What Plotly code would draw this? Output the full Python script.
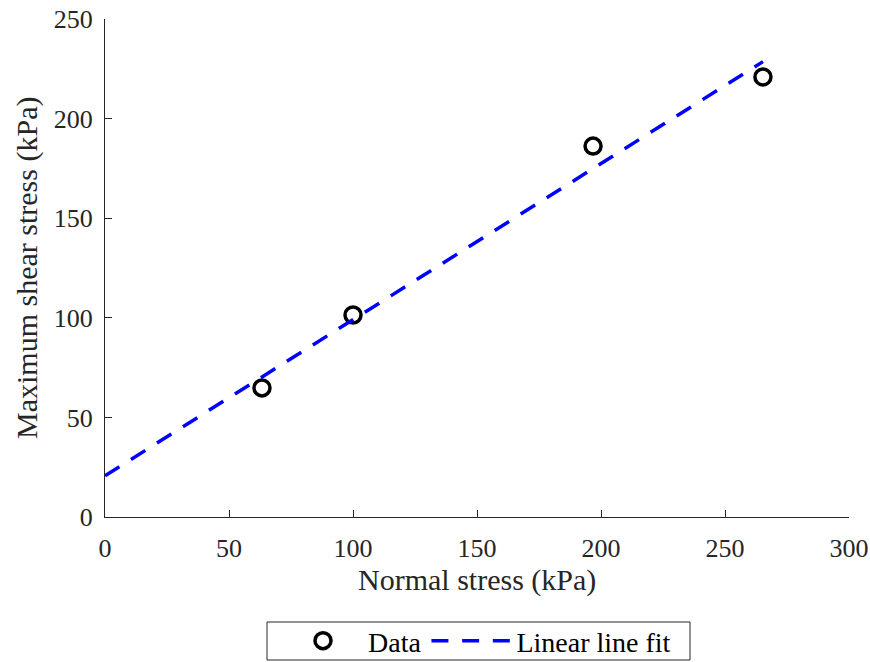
import plotly.graph_objects as go

# Data
normal_stress = [63.3, 100.0, 196.8, 265.3]
shear_stress = [64.8, 101.4, 186.2, 220.9]

fit_x = [0.0, 265.3]
fit_y = [20.7, 228.6]

x_ticks = [0, 50, 100, 150, 200, 250, 300]
y_ticks = [0, 50, 100, 150, 200, 250]

x_title = "Normal stress (kPa)"
y_title = "Maximum shear stress (kPa)"

FONT = "Liberation Serif"
AX = "#262626"

fig = go.Figure()
fig.add_trace(go.Scatter(
    x=normal_stress, y=shear_stress, mode="markers", name="Data",
    marker=dict(symbol="circle-open", size=16, color="black",
                line=dict(width=3.5, color="black")),
))
fig.add_trace(go.Scatter(
    x=fit_x, y=fit_y, mode="lines", name="Linear line fit",
    line=dict(color="rgb(0,0,255)", width=3.5, dash="17px,13.7px"),
))

fig.update_layout(
    width=870, height=662,
    margin=dict(l=105, r=21, t=19, b=145),
    paper_bgcolor="white", plot_bgcolor="white",
    font=dict(family=FONT, size=26, color=AX),
    showlegend=True,
    legend=dict(
        orientation="h", x=0.5, xanchor="center",
        yref="container", y=1 - 641 / 662, yanchor="middle",
        borderwidth=0, bgcolor="rgba(0,0,0,0)",
        itemwidth=80,
        font=dict(family=FONT, size=28, color="black"),
    ),
    shapes=[
        # legend frame
        dict(type="rect", xref="paper", yref="paper",
             x0=(267 - 105) / 744, x1=(690 - 105) / 744,
             y0=(517 - 660) / 498, y1=(517 - 622) / 498,
             line=dict(color="#262626", width=1), fillcolor="rgba(0,0,0,0)",
             layer="below"),
    ],
    xaxis=dict(
        range=[0, 300], tickvals=x_ticks, ticktext=[str(v) for v in x_ticks],
        showgrid=False, zeroline=False, showline=True, linecolor=AX, linewidth=1,
        ticks="inside", ticklen=7, tickcolor=AX, tickwidth=1, automargin=False,
        ticklabelstandoff=8,
    ),
    yaxis=dict(
        range=[0, 250], tickvals=y_ticks, ticktext=[str(v) for v in y_ticks],
        showgrid=False, zeroline=False, showline=True, linecolor=AX, linewidth=1,
        ticks="inside", ticklen=7, tickcolor=AX, tickwidth=1, automargin=False,
        ticklabelstandoff=6,
    ),
    annotations=[
        dict(text=x_title, xref="paper", yref="paper", x=0.5, y=0,
             xanchor="center", yanchor="middle", yshift=-63, showarrow=False,
             font=dict(family=FONT, size=30, color=AX)),
        dict(text=y_title, xref="paper", yref="paper", x=0, y=0.5,
             xanchor="center", yanchor="middle", xshift=-78, textangle=-90,
             showarrow=False, font=dict(family=FONT, size=30, color=AX)),
    ],
)

fig.write_html(
    "out.html",
    config={"displayModeBar": False},
    post_script="document.body.style.margin='0';document.body.style.overflow='hidden';",
)
